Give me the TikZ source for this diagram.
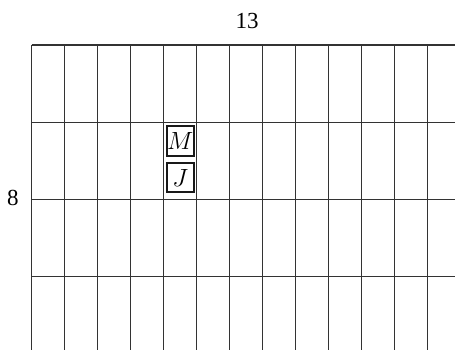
\documentclass[tikz,border=0pt]{standalone}
\usepackage{fontspec}
\setmainfont{Liberation Serif}
\begin{document}
\begin{tikzpicture}[x=1pt,y=-1pt,
  gridline/.style={draw=black!80,line width=1.3pt},
  letterbox/.style={draw=black!90,line width=2.2pt,minimum width=27pt,minimum height=29.5pt,inner sep=0pt,font=\fontsize{23}{26}\selectfont},
  dimlabel/.style={font=\fontsize{23}{26}\selectfont,inner sep=0pt}]
\useasboundingbox (0,0) rectangle (455,350);
\begin{scope}
\clip (0,0) rectangle (455,350);
\foreach \i in {0,...,12} {
  \draw[gridline] (31.5+33*\i,45) -- (31.5+33*\i,352);
}
\foreach \j in {0,...,3} {
  \draw[gridline] (31.5,45+77.2*\j) -- (457,45+77.2*\j);
}
\end{scope}
\node[dimlabel] (top) at (247,21) {13};
\node[dimlabel] (left) at (12.8,197.5) {8};
\node[letterbox] (m) at (180.3,141) {$M$};
\node[letterbox] (j) at (180.3,177.5) {$J$};
\end{tikzpicture}
\end{document}
